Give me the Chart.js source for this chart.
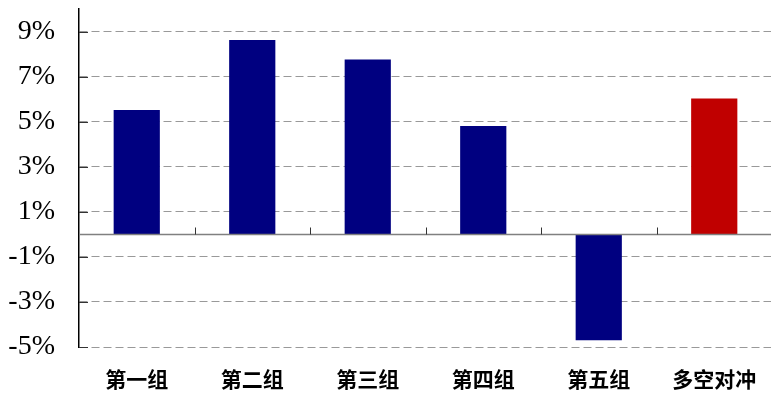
<!DOCTYPE html>
<html>
<head>
<meta charset="utf-8">
<script src="https://cdn.jsdelivr.net/npm/chart.js@4/dist/chart.umd.min.js"></script>
<style>
    html, body { margin: 0; padding: 0; background: #fff; overflow: hidden; }
    canvas { display: block; }
</style>
</head>
<body>
<canvas id="grafico" width="772" height="399"></canvas>
<script>
var categorias = ['第一组', '第二组', '第三组', '第四组', '第五组', '多空对冲'];
var retornos = [5.52, 8.62, 7.76, 4.81, -4.70, 6.03];
var coresBarras = ['#000080', '#000080', '#000080', '#000080', '#000080', '#C00000'];
var ticksY = [-5, -3, -1, 1, 3, 5, 7, 9];

// linha do zero com pequenos tracos entre as categorias
var linhaZero = {
    id: 'linhaZero',
    afterDatasetsDraw: function(chart) {
        var ctx = chart.ctx;
        var x = chart.scales.x;
        var y = chart.scales.y;
        var y0 = Math.round(y.getPixelForValue(0)) + 0.5;
        ctx.save();
        ctx.strokeStyle = '#808080';
        ctx.lineWidth = 1.5;
        ctx.beginPath();
        ctx.moveTo(x.left, y0);
        ctx.lineTo(x.right, y0);
        ctx.stroke();
        ctx.strokeStyle = '#333';
        ctx.lineWidth = 1;
        for (var i = 1; i < categorias.length; i++) {
            var xb = Math.round((x.getPixelForValue(i - 1) + x.getPixelForValue(i)) / 2) + 0.5;
            ctx.beginPath();
            ctx.moveTo(xb, y0);
            ctx.lineTo(xb, y0 - 7);
            ctx.stroke();
        }
        // tracos internos do eixo y
        ticksY.forEach(function(v) {
            var yy = Math.round(y.getPixelForValue(v)) + 0.5;
            ctx.beginPath();
            ctx.moveTo(x.left, yy);
            ctx.lineTo(x.left + 9, yy);
            ctx.stroke();
        });
        ctx.restore();
    }
};

var ctx = document.getElementById('grafico').getContext('2d');
var myChart = new Chart(ctx, {
    type: 'bar',
    data: {
        labels: categorias,
        datasets: [{
            data: retornos,
            backgroundColor: coresBarras,
            borderColor: coresBarras,
            borderWidth: 0,
            barPercentage: 0.4,
            categoryPercentage: 1.0
        }]
    },
    options: {
        responsive: false,
        animation: false,
        layout: { padding: { top: 9, right: 0, left: 0, bottom: 0 } },
        plugins: {
            legend: { display: false },
            tooltip: { enabled: false }
        },
        scales: {
            x: {
                grid: { display: false, drawTicks: false },
                border: { display: false },
                afterFit: function(axis) {
                    axis.height = 52;
                    axis.paddingLeft = 0;
                    axis.paddingRight = 0;
                },
                ticks: {
                    color: '#000',
                    padding: 22,
                    font: { family: '"Noto Sans CJK SC"', size: 21, weight: 'bold', lineHeight: 1 }
                }
            },
            y: {
                min: -5,
                max: 10,
                afterBuildTicks: function(axis) {
                    axis.ticks = ticksY.map(function(v) { return { value: v }; });
                },
                afterFit: function(axis) {
                    axis.width = 79;
                    axis.paddingTop = 0;
                    axis.paddingBottom = 0;
                },
                grid: {
                    color: '#999',
                    lineWidth: 1,
                    drawTicks: false
                },
                border: { display: true, color: '#000', width: 1.5, dash: [8, 4] },
                ticks: {
                    color: '#000',
                    padding: 24,
                    font: { family: '"Liberation Serif"', size: 28, lineHeight: 0.1 },
                    callback: function(v) { return v + '%'; }
                }
            }
        }
    },
    plugins: [linhaZero]
});
</script>
</body>
</html>
